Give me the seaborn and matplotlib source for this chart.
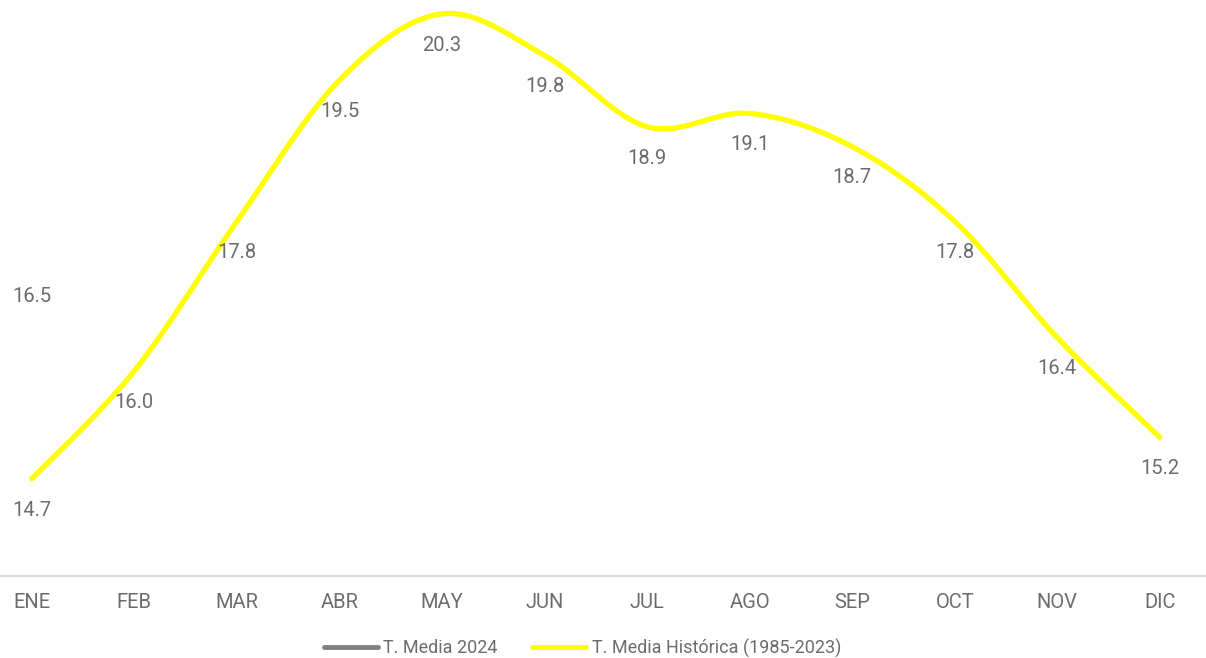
import numpy as np
import pandas as pd
import matplotlib
matplotlib.use("Agg")
import matplotlib.pyplot as plt
import seaborn as sns
from matplotlib.lines import Line2D

months = ["ENE", "FEB", "MAR", "ABR", "MAY", "JUN", "JUL", "AGO", "SEP", "OCT", "NOV", "DIC"]
hist_vals = [14.7, 16.0, 17.8, 19.5, 20.3, 19.8, 18.94, 19.1, 18.7, 17.8, 16.4, 15.2]
vals_2024 = [16.5]
name_2024 = "T. Media 2024"
name_hist = "T. Media Histórica (1985-2023)"

sns.set_theme(style="white")
plt.rcParams["font.family"] = ["Roboto", "DejaVu Sans"]

TXT = "#6e6b6b"
YEL = "#FFFF00"
GRY = "#808080"

fig = plt.figure(figsize=(12.06, 6.58), dpi=100)
ax = fig.add_axes([0, 1 - 576 / 658, 1, 576 / 658])


def smooth(y, n=40):
    # Catmull-Rom style smoothing (like spreadsheet "smoothed line")
    y = np.asarray(y, float)
    x = np.arange(len(y), dtype=float)
    P = np.column_stack([x, y])
    P = np.vstack([P[0], P, P[-1]])
    out = []
    for i in range(1, len(P) - 2):
        p0, p1, p2, p3 = P[i - 1], P[i], P[i + 1], P[i + 2]
        c1 = p1 + (p2 - p0) / 6
        c2 = p2 - (p3 - p1) / 6
        t = np.linspace(0, 1, n, endpoint=(i == len(P) - 3))[:, None]
        b = ((1 - t) ** 3) * p1 + 3 * ((1 - t) ** 2) * t * c1 + 3 * (1 - t) * t ** 2 * c2 + t ** 3 * p2
        out.append(b)
    out = np.vstack(out)
    return out[:, 0], out[:, 1]


sx, sy = smooth(hist_vals)
df_s = pd.DataFrame({"x": sx, "y": sy})
sns.lineplot(data=df_s, x="x", y="y", ax=ax, color=YEL, linewidth=3.8,
             sort=False, estimator=None, solid_capstyle="round", legend=False)
df24 = pd.DataFrame({"x": np.arange(len(vals_2024)), "y": vals_2024})
ax.plot(df24["x"], df24["y"], color=GRY, linewidth=3.5)

for i, v in enumerate(hist_vals):
    ax.annotate(f"{v:.1f}", (i, v), xytext=(0, -22.5), textcoords="offset points",
                ha="center", va="center", fontsize=14.5, color=TXT)
for i, v in enumerate(vals_2024):
    ax.annotate(f"{v:.1f}", (i, v), xytext=(0, 24), textcoords="offset points",
                ha="center", va="center", fontsize=14.5, color=TXT)

ax.set_xlim(-0.31, 11.45)
ax.set_ylim(13.53, 13.53 + 576 / 83.04)
ax.set_xticks(range(len(months)))
ax.set_xticklabels(months, fontsize=14.5, color=TXT)
ax.set_yticks([])
ax.set_xlabel("")
ax.set_ylabel("")
ax.tick_params(axis="x", length=0, pad=12.5)
for s in ["top", "left", "right"]:
    ax.spines[s].set_visible(False)
ax.spines["bottom"].set_color("#d9d9d9")
ax.spines["bottom"].set_linewidth(1.5)
ax.patch.set_alpha(0)

handles = [Line2D([0], [0], color=GRY, lw=3.5, solid_capstyle="round"),
           Line2D([0], [0], color=YEL, lw=3.5, solid_capstyle="round")]
leg = fig.legend(handles, [name_2024, name_hist], loc="center", bbox_to_anchor=(0.483, 1 - 648 / 658),
                 ncol=2, frameon=False, fontsize=13, handlelength=3.0, handletextpad=0.3,
                 columnspacing=1.9)
for t in leg.get_texts():
    t.set_color(TXT)

fig.savefig("out.png", dpi=100)
